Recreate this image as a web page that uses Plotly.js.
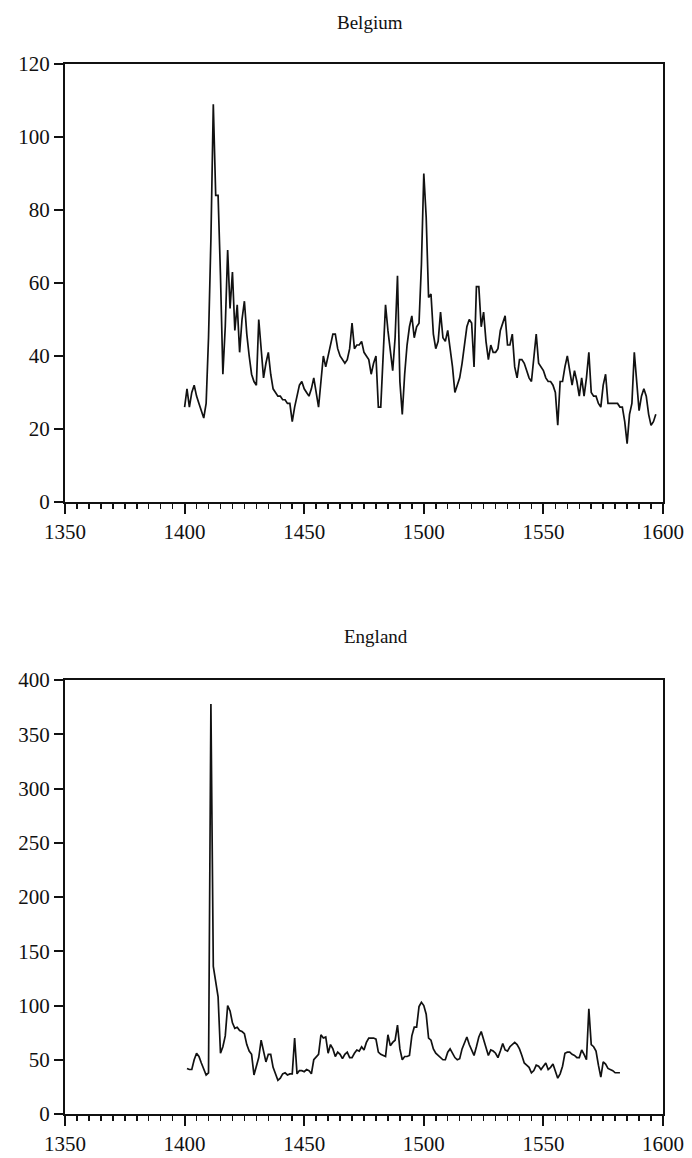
<!DOCTYPE html>
<html>
<head>
<meta charset="utf-8">
<script src="https://cdn.plot.ly/plotly-3.0.1.min.js"></script>
<style>html,body{margin:0;padding:0;background:#fff;}#chart{width:692px;height:1158px;}</style>
</head>
<body>
<div id="chart"></div>
<script>
// Belgium: annual values, 1400-1597
const belgiumStart = 1400;
const belgium = [
  26,31,26,30,32,29,27,25,23,27,
  45,72,109,84,84,62,35,48,69,53,
  63,47,54,41,50,55,46,40,35,33,
  32,50,42,34,38,41,35,31,30,29,
  29,28,28,27,27,22,26,29,32,33,
  31,30,29,31,34,30,26,33,40,37,
  40,43,46,46,42,40,39,38,39,42,
  49,42,43,43,44,41,40,39,35,38,
  40,26,26,42,54,47,42,36,45,62,
  33,24,35,43,48,51,45,48,49,65,
  90,78,56,57,46,42,44,52,45,44,
  47,42,37,30,32,34,38,43,48,50,
  49,37,59,59,48,52,44,39,43,41,
  41,42,47,49,51,43,43,46,37,34,
  39,39,38,36,34,33,40,46,38,37,
  36,34,33,33,32,30,21,33,33,37,
  40,36,32,36,33,29,34,29,34,41,
  30,29,29,27,26,32,35,27,27,27,
  27,27,26,26,22,16,24,27,41,32,
  25,29,31,29,24,21,22,24
];

// England: annual values, 1401-1582
const englandStart = 1401;
const england = [
  42,41,41,50,56,53,47,41,36,
  38,378,136,120,108,56,62,72,100,95,
  84,79,80,77,76,74,64,58,55,36,
  45,52,68,58,48,55,55,43,37,31,
  33,37,38,36,37,37,70,37,40,40,
  39,41,40,37,50,53,55,73,70,71,
  56,64,60,53,57,55,51,55,57,52,
  52,56,59,58,62,59,66,70,70,70,
  69,57,55,54,53,73,63,66,68,82,
  60,50,53,53,54,72,80,80,99,103,
  100,92,70,68,60,56,54,52,50,50,
  57,60,56,52,50,51,60,66,71,64,
  58,54,62,71,76,68,62,54,59,58,
  56,52,58,65,59,58,62,64,66,64,
  60,54,47,45,43,38,40,45,44,41,
  44,47,41,43,46,40,33,37,44,56,
  57,57,55,54,52,52,59,55,50,97,
  64,62,58,45,34,48,46,42,41,40,
  38,38,38
];

const titles = ["Belgium", "England"];
const xTicks = [1350, 1400, 1450, 1500, 1550, 1600];

const FONT = "'Liberation Serif', 'DejaVu Serif', serif";

const traces = [
  {x0: belgiumStart, dx: 1, y: belgium, type: "scatter", mode: "lines",
   line: {color: "#111", width: 1.7}, xaxis: "x", yaxis: "y", hoverinfo: "x+y"},
  {x0: englandStart, dx: 1, y: england, type: "scatter", mode: "lines",
   line: {color: "#111", width: 1.7}, xaxis: "x2", yaxis: "y2", hoverinfo: "x+y"}
];

function xAxis(anchor) {
  return {
    anchor: anchor, range: [1350, 1600], tickmode: "array", tickvals: xTicks,
    ticks: "outside", ticklen: 10, tickwidth: 2, tickcolor: "#111",
    showline: true, linecolor: "#111", linewidth: 2, mirror: true,
    showgrid: false, zeroline: false,
    minor: {dtick: 5, tick0: 1350, ticks: "outside", ticklen: 5, tickwidth: 1.5, tickcolor: "#111", showgrid: false},
    tickfont: {family: FONT, size: 21, color: "#111"}
  };
}
function yAxis(anchor, domain, max, dtick) {
  return {
    anchor: anchor, domain: domain, range: [0, max], dtick: dtick, tick0: 0,
    ticks: "outside", ticklen: 9, tickwidth: 2, tickcolor: "#111",
    showline: true, linecolor: "#111", linewidth: 2, mirror: true,
    showgrid: false, zeroline: false,
    tickfont: {family: FONT, size: 21, color: "#111"}
  };
}

const layout = {
  width: 692, height: 1158,
  margin: {l: 65, r: 29, t: 64, b: 44},
  paper_bgcolor: "#fff", plot_bgcolor: "#fff",
  showlegend: false,
  font: {family: FONT, color: "#111"},
  xaxis: xAxis("y"),
  yaxis: yAxis("x", [0.5829, 1], 120, 20),
  xaxis2: xAxis("y2"),
  yaxis2: yAxis("x2", [0, 0.4133], 400, 50),
  annotations: [
    {text: titles[0], xref: "paper", yref: "paper", x: 0.51, y: 1, yshift: 42,
     showarrow: false, font: {family: FONT, size: 19, color: "#111"}, xanchor: "center", yanchor: "middle"},
    {text: titles[1], xref: "paper", yref: "paper", x: 0.52, y: 0.4133, yshift: 44,
     showarrow: false, font: {family: FONT, size: 19, color: "#111"}, xanchor: "center", yanchor: "middle"}
  ]
};

Plotly.newPlot("chart", traces, layout, {staticPlot: true, displayModeBar: false});
</script>
</body>
</html>
